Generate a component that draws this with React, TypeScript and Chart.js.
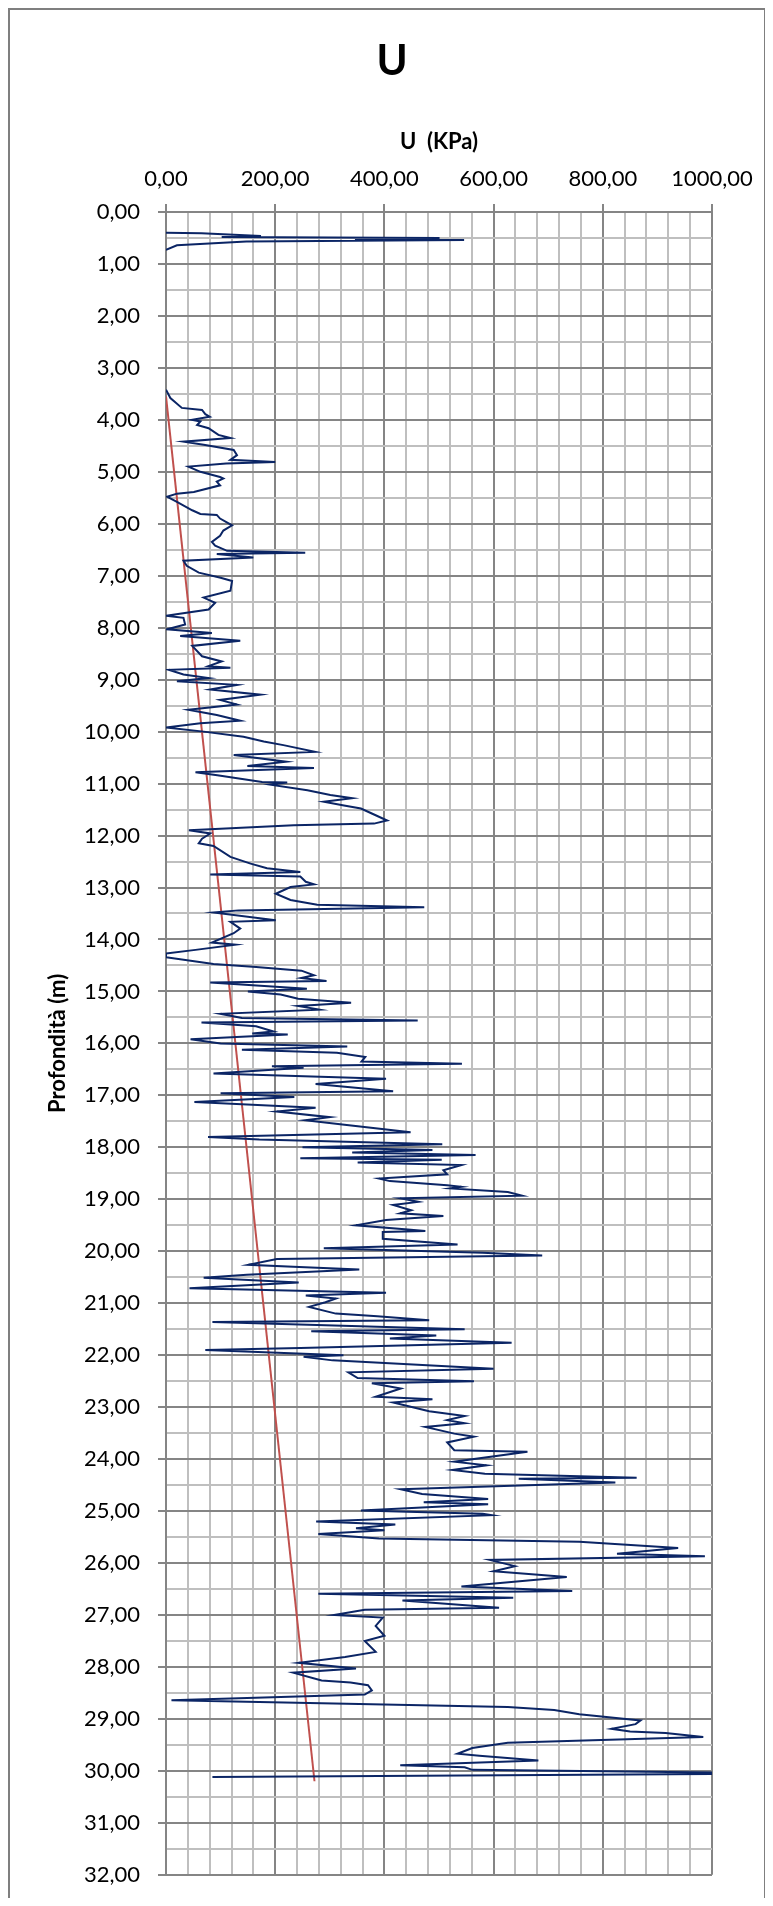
import React, { useEffect, useRef } from "react";
import { Chart, registerables } from "chart.js";

Chart.register(...registerables);

// ---- data ----
const topDepth = [0.40, 0.41, 0.46, 0.48, 0.50, 0.52, 0.54, 0.57, 0.64, 0.73];
const topU = [0, 65, 174, 102, 501, 346, 546, 147, 20, 0];

const mainDepth = [
  3.42, 3.58, 3.77, 3.81, 3.89, 3.94, 4.00, 4.03, 4.10, 4.16, 4.29, 4.35, 4.42, 4.48, 4.58, 4.68, 4.77, 4.81, 4.84, 4.90,
  5.00, 5.10, 5.13, 5.19, 5.26, 5.39, 5.42, 5.48, 5.58, 5.74, 5.81, 5.83, 5.90, 6.03, 6.13, 6.23, 6.35, 6.42, 6.52, 6.56,
  6.58, 6.65, 6.71, 6.81, 6.94, 7.04, 7.10, 7.29, 7.42, 7.52, 7.65, 7.77, 7.81, 7.94, 8.03, 8.10, 8.16, 8.25, 8.35, 8.55,
  8.65, 8.74, 8.77, 8.81, 8.90, 8.97, 9.03, 9.10, 9.19, 9.29, 9.39, 9.48, 9.58, 9.68, 9.79, 9.84, 9.92, 10.00, 10.10, 10.19,
  10.26, 10.39, 10.45, 10.58, 10.66, 10.70, 10.78, 10.84, 10.97, 10.98, 11.02, 11.13, 11.22, 11.28, 11.35, 11.42, 11.48, 11.58, 11.71, 11.77,
  11.80, 11.90, 11.96, 12.06, 12.15, 12.20, 12.41, 12.54, 12.63, 12.70, 12.75, 12.79, 12.89, 12.94, 12.99, 13.12, 13.24, 13.33, 13.38, 13.44,
  13.48, 13.63, 13.66, 13.79, 13.88, 14.06, 14.10, 14.20, 14.27, 14.34, 14.47, 14.53, 14.60, 14.69, 14.74, 14.80, 14.83, 14.95, 15.00, 15.06,
  15.14, 15.22, 15.28, 15.35, 15.43, 15.51, 15.56, 15.60, 15.67, 15.77, 15.81, 15.83, 15.92, 16.00, 16.06, 16.12, 16.18, 16.26, 16.35, 16.39,
  16.44, 16.47, 16.58, 16.68, 16.78, 16.82, 16.92, 16.96, 17.03, 17.13, 17.24, 17.31, 17.42, 17.48, 17.56, 17.71, 17.80, 17.85, 17.94, 18.00,
  18.05, 18.10, 18.15, 18.21, 18.24, 18.29, 18.34, 18.44, 18.52, 18.60, 18.65, 18.73, 18.76, 18.79, 18.86, 18.93, 18.98, 19.05, 19.11, 19.21,
  19.27, 19.32, 19.40, 19.50, 19.58, 19.61, 19.63, 19.76, 19.87, 19.94, 20.03, 20.08, 20.15, 20.26, 20.30, 20.35, 20.45, 20.51, 20.60, 20.71,
  20.80, 20.85, 20.91, 20.98, 21.07, 21.20, 21.25, 21.33, 21.36, 21.50, 21.54, 21.62, 21.68, 21.76, 21.86, 21.90, 22.00, 22.03, 22.10, 22.26,
  22.33, 22.44, 22.50, 22.54, 22.64, 22.80, 22.85, 22.91, 23.08, 23.17, 23.25, 23.31, 23.38, 23.51, 23.57, 23.68, 23.83, 23.86, 24.05, 24.12,
  24.21, 24.28, 24.36, 24.38, 24.45, 24.58, 24.67, 24.77, 24.83, 24.87, 24.99, 25.05, 25.08, 25.20, 25.26, 25.33, 25.37, 25.44, 25.53, 25.59,
  25.71, 25.82, 25.87, 25.94, 26.06, 26.16, 26.27, 26.45, 26.54, 26.59, 26.67, 26.72, 26.86, 26.90, 27.00, 27.05, 27.21, 27.40, 27.50, 27.71,
  27.81, 27.92, 28.03, 28.11, 28.26, 28.30, 28.35, 28.45, 28.53, 28.64, 28.71, 28.77, 28.83, 28.91, 29.03, 29.10, 29.19, 29.24, 29.27, 29.35,
  29.46, 29.56, 29.67, 29.71, 29.80, 29.89, 29.93, 29.98, 30.03, 30.06, 30.12,
];
const mainU = [
  0, 8, 29, 66, 72, 80, 48, 63, 57, 78, 96, 118, 32, 69, 124, 130, 118, 200, 110, 41,
  63, 99, 105, 93, 99, 51, 20, 2, 20, 48, 63, 93, 99, 121, 105, 99, 84, 90, 112, 255,
  93, 160, 32, 38, 60, 100, 121, 118, 69, 90, 78, 0, 32, 35, 2, 84, 26, 136, 48, 66,
  102, 78, 118, 5, 32, 78, 20, 130, 81, 173, 99, 130, 41, 93, 136, 63, 0, 69, 142, 179,
  215, 273, 124, 220, 149, 271, 54, 94, 176, 222, 191, 259, 301, 341, 289, 326, 357, 378, 405, 381,
  234, 42, 81, 66, 60, 87, 118, 155, 185, 246, 81, 246, 256, 271, 228, 201, 228, 277, 473, 133,
  87, 201, 118, 136, 124, 84, 127, 54, 0, 0, 87, 165, 248, 271, 248, 294, 81, 258, 150, 210,
  242, 339, 242, 281, 100, 139, 461, 65, 165, 197, 158, 223, 45, 100, 332, 139, 313, 365, 358, 542,
  194, 252, 87, 403, 274, 313, 416, 100, 235, 52, 274, 203, 300, 255, 323, 448, 77, 171, 506, 250,
  488, 341, 567, 246, 505, 351, 541, 508, 515, 390, 410, 515, 541, 521, 626, 652, 429, 462, 416, 449,
  429, 508, 403, 348, 443, 475, 397, 397, 534, 289, 580, 689, 203, 151, 233, 354, 148, 69, 243, 43,
  403, 256, 311, 292, 262, 311, 387, 482, 85, 547, 266, 495, 410, 633, 246, 72, 325, 252, 305, 600,
  334, 351, 564, 377, 430, 384, 488, 416, 482, 547, 515, 547, 475, 528, 564, 515, 528, 662, 528, 587,
  525, 584, 862, 646, 823, 430, 469, 590, 472, 590, 357, 580, 597, 275, 420, 348, 400, 279, 390, 757,
  938, 826, 987, 593, 639, 600, 734, 541, 744, 279, 636, 433, 610, 364, 308, 397, 384, 400, 364, 384,
  328, 243, 348, 233, 285, 338, 370, 377, 364, 10, 331, 626, 711, 757, 869, 860, 816, 850, 915, 984,
  626, 561, 534, 574, 682, 429, 547, 561, 1000, 1000, 85,
];

const hydroDepth = [3.55, 30.2];
const hydroU = [0, 272];

const xMajorStep = 200;
const xMinorStep = 40;
const yMajorStep = 1;
const yMinorStep = 0.5;

const chartTitle = "U";
const xTitle = "U  (KPa)";
const yTitle = "Profondità (m)";

// ---- styles ----
const FONT = "Lato, 'Liberation Sans', sans-serif";
const MAJOR = "#858585";
const MINOR = "#bfbfbf";
const NAVY = "#0b2565";
const RED = "#c0504d";
const FRAME = "#7f7f7f";
const CW = 759;
const CH = 1898;

const fmt = (v: number) => v.toFixed(2).replace(".", ",");
const isMult = (v: number, s: number) => Math.abs(v / s - Math.round(v / s)) < 1e-6;

const toPts = (ds: number[], us: number[]) => ds.map((d, i) => ({ x: us[i], y: d }));

const framePlugin = {
  id: "frameAndTitle",
  beforeDraw(chart: any) {
    const ctx = chart.ctx;
    ctx.save();
    ctx.fillStyle = "#fff";
    ctx.fillRect(0, 0, chart.width, chart.height);
    ctx.restore();
  },
  afterDraw(chart: any) {
    const ctx = chart.ctx;
    ctx.save();
    ctx.strokeStyle = FRAME;
    ctx.lineWidth = 2;
    ctx.strokeRect(1, 1, chart.width - 3, chart.height - 3);
    ctx.font = `bold 42px ${FONT}`;
    ctx.fillStyle = "#000";
    ctx.textAlign = "center";
    ctx.textBaseline = "alphabetic";
    ctx.fillText(chartTitle, 384, 67);
    ctx.restore();
  },
};

export default function App() {
  const ref = useRef<HTMLCanvasElement | null>(null);

  useEffect(() => {
    if (!ref.current) return;
    const chart = new Chart(ref.current, {
      type: "scatter",
      data: {
        datasets: [
          { data: toPts(topDepth, topU), showLine: true, borderColor: NAVY, borderWidth: 2, pointRadius: 0, tension: 0 },
          { data: toPts(mainDepth, mainU), showLine: true, borderColor: NAVY, borderWidth: 2, pointRadius: 0, tension: 0 },
          { data: toPts(hydroDepth, hydroU), showLine: true, borderColor: RED, borderWidth: 2, pointRadius: 0, tension: 0 },
        ],
      },
      options: {
        responsive: false,
        animation: false,
        devicePixelRatio: 1,
        layout: { padding: { top: 76, left: 0, right: 55, bottom: 30 } },
        plugins: {
          legend: { display: false },
          tooltip: { enabled: false },
          title: { display: false },
        },
        scales: {
          x: {
            type: "linear",
            position: "top",
            min: 0,
            max: 1000,
            ticks: {
              stepSize: xMinorStep,
              autoSkip: false,
              maxRotation: 0,
              minRotation: 0,
              padding: 12,
              color: "#000",
              font: { family: FONT, size: 22 },
              callback: (v: any) => (isMult(Number(v), xMajorStep) ? fmt(Number(v)) : ""),
            },
            grid: {
              color: (c: any) => (isMult(c.tick.value, xMajorStep) ? MAJOR : MINOR),
              tickColor: (c: any) => (isMult(c.tick.value, xMajorStep) ? MAJOR : "rgba(0,0,0,0)"),
              lineWidth: 2,
              tickLength: 8,
            },
            border: { color: MAJOR, width: 2 },
            title: {
              display: true,
              text: xTitle,
              color: "#000",
              font: { family: FONT, size: 22, weight: "bold" },
              padding: { top: 45, bottom: 0 },
            },
            afterFit: (s: any) => {
              s.height = 128;
            },
          },
          y: {
            type: "linear",
            reverse: true,
            min: 0,
            max: 32,
            ticks: {
              stepSize: yMinorStep,
              autoSkip: false,
              padding: 18,
              color: "#000",
              font: { family: FONT, size: 22 },
              callback: (v: any) => (isMult(Number(v), yMajorStep) ? fmt(Number(v)) : ""),
            },
            grid: {
              color: (c: any) => (isMult(c.tick.value, yMajorStep) ? MAJOR : MINOR),
              tickColor: (c: any) => (isMult(c.tick.value, yMajorStep) ? MAJOR : "rgba(0,0,0,0)"),
              lineWidth: 2,
              tickLength: 8,
            },
            border: { color: MAJOR, width: 2 },
            title: {
              display: true,
              text: yTitle,
              color: "#000",
              font: { family: FONT, size: 22, weight: "bold" },
              padding: { top: 37, bottom: 0 },
            },
            afterFit: (s: any) => {
              s.width = 158;
            },
          },
        },
      } as any,
      plugins: [framePlugin],
    });
    return () => chart.destroy();
  }, []);

  return (
    <canvas
      ref={ref}
      width={CW}
      height={CH}
      style={{ display: "block", width: CW, height: CH, marginBottom: -8 }}
    />
  );
}
